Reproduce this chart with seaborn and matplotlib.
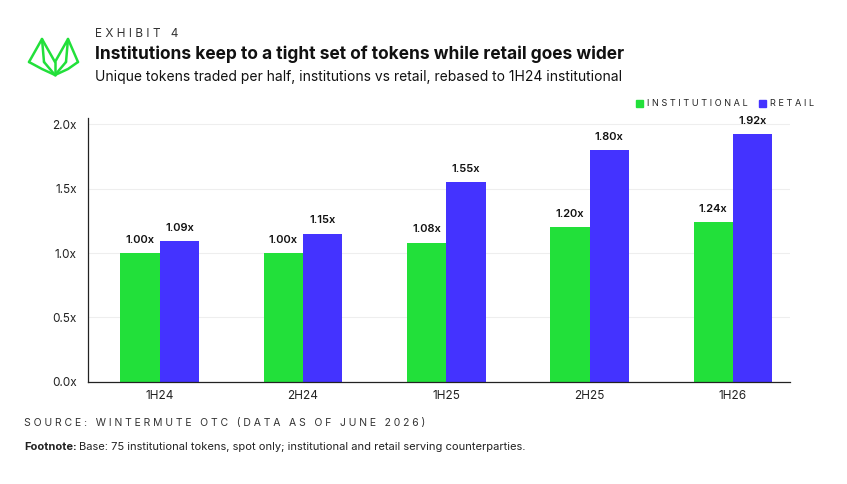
import matplotlib
matplotlib.use("Agg")
import matplotlib.pyplot as plt
import seaborn as sns
import pandas as pd

periods = ["1H24", "2H24", "1H25", "2H25", "1H26"]
institutional = [1.00, 1.00, 1.08, 1.20, 1.24]
retail = [1.09, 1.15, 1.55, 1.80, 1.92]

GREEN = "#22e03a"
BLUE = "#4433ff"

df = pd.DataFrame({
    "period": periods * 2,
    "value": institutional + retail,
    "series": ["INSTITUTIONAL"] * 5 + ["RETAIL"] * 5,
})

sns.set_theme(style="white")
plt.rcParams["font.family"] = ["Inter", "DejaVu Sans"]

fig = plt.figure(figsize=(8.47, 4.84), dpi=100)
ax = fig.add_axes([0.104, 0.211, 0.829, 0.545])

sns.barplot(data=df, x="period", y="value", hue="series",
            palette=[GREEN, BLUE], saturation=1, width=0.55, gap=0,
            linewidth=0, ax=ax, legend=False)

for cont in ax.containers:
    ax.bar_label(cont, labels=[f"{v:.2f}x" for v in cont.datavalues],
                 padding=6, fontsize=8, fontweight="semibold", color="#111111")

ax.set_ylim(0, 2.047)
ax.set_xlim(-0.5, 4.4)
ax.set_yticks([0, 0.5, 1.0, 1.5, 2.0])
ax.set_yticklabels([f"{t:.1f}x" for t in [0, 0.5, 1.0, 1.5, 2.0]], fontsize=8.5, color="#222222")
ax.tick_params(axis="x", labelsize=8.5, colors="#222222", length=0, pad=6)
ax.tick_params(axis="y", length=0, pad=8)
ax.set_xlabel("")
ax.set_ylabel("")
ax.grid(axis="y", color="#eeeeee", linewidth=0.8)
ax.set_axisbelow(True)
for s in ["top", "right"]:
    ax.spines[s].set_visible(False)
for s in ["left", "bottom"]:
    ax.spines[s].set_color("#222222")
    ax.spines[s].set_linewidth(0.9)

# legend
fig.patches.append(plt.Rectangle((636 / 847, 1 - 107 / 484), 7 / 847, 7 / 484,
                                 transform=fig.transFigure, color=GREEN, figure=fig))
fig.text(647 / 847, 1 - 103 / 484, "I N S T I T U T I O N A L", fontsize=6.6,
         va="center", color="#222222")
fig.patches.append(plt.Rectangle((759 / 847, 1 - 107 / 484), 7 / 847, 7 / 484,
                                 transform=fig.transFigure, color=BLUE, figure=fig))
fig.text(770 / 847, 1 - 103 / 484, "R E T A I L", fontsize=6.6, va="center", color="#222222")

# header
fig.text(95 / 847, 1 - 34 / 484, "E X H I B I T   4", fontsize=8.5, va="center", color="#333333")
fig.text(95 / 847, 1 - 54 / 484, "Institutions keep to a tight set of tokens while retail goes wider",
         fontsize=12.5, fontweight="bold", va="center", color="#111111")
fig.text(95 / 847, 1 - 77 / 484,
         "Unique tokens traded per half, institutions vs retail, rebased to 1H24 institutional",
         fontsize=10, va="center", color="#111111")

# logo
def fx(x):
    return x / 847
def fy(y):
    return 1 - y / 484
logo = [
    [(29, 62), (42, 39), (44, 62)],
    [(42, 39), (55, 62), (68, 39), (66, 62)],
    [(68, 39), (78, 62)],
    [(29, 62), (42, 69), (55, 75), (68, 69), (78, 62)],
    [(44, 62), (55, 75), (66, 62)],
    [(55, 62), (55, 75)],
]
for pts in logo:
    fig.add_artist(plt.Line2D([fx(p[0]) for p in pts], [fy(p[1]) for p in pts],
                              transform=fig.transFigure, color=GREEN, linewidth=1.8))

# footer
fig.text(24 / 847, 1 - 423 / 484, "S O U R C E :   W I N T E R M U T E   O T C   ( D A T A   A S   O F   J U N E   2 0 2 6 )",
         fontsize=7.5, va="center", color="#333333")
fig.text(24 / 847, 1 - 447 / 484, "Footnote:", fontsize=8, fontweight="bold",
         va="center", color="#222222")
fig.text(79 / 847, 1 - 447 / 484,
         "Base: 75 institutional tokens, spot only; institutional and retail serving counterparties.",
         fontsize=8, va="center", color="#222222")

fig.savefig("out.png", dpi=100)
